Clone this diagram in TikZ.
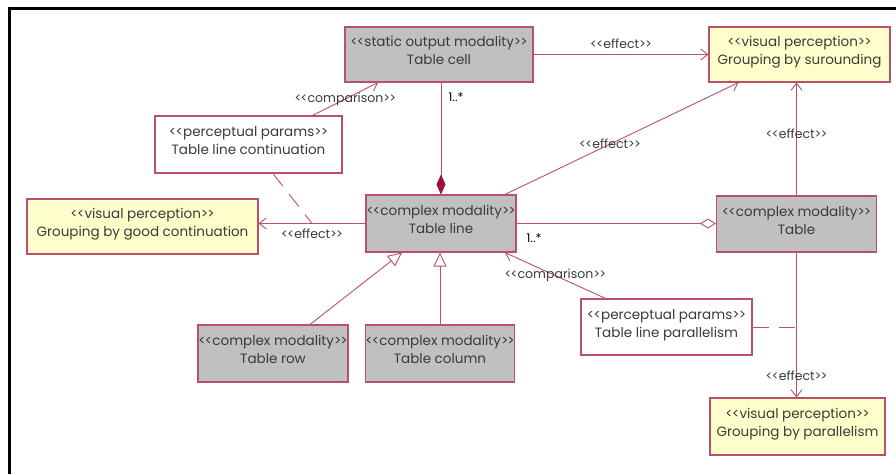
\documentclass[tikz,border=0pt]{standalone}
\usepackage{fontspec}
\setmainfont{Poppins}[Ligatures=NoCommon]
\usetikzlibrary{arrows.meta,calc}
\definecolor{umlred}{HTML}{B8506E}
\definecolor{umlgray}{HTML}{C0C0C0}
\definecolor{umlyellow}{HTML}{FFFFCC}
\definecolor{umltext}{HTML}{3A3A3A}
\definecolor{umldia}{HTML}{A0103C}
% stereotype in plain angle brackets
\newcommand{\stereo}[1]{<\kern-0.06em<#1>\kern-0.06em>}
% two-line class text, raised a little towards the top edge
\newcommand{\cls}[2]{\stereo{#1}\\#2\\[-10pt]\mbox{}}
\begin{document}
\begin{tikzpicture}[x=1pt,y=-1pt,
  box/.style={draw=umlred, line width=1.1pt, align=center, text=umltext,
    font=\fontsize{13.5}{18}\selectfont, inner sep=0pt},
  modal/.style={box, fill=umlgray},
  percept/.style={box, fill=umlyellow},
  param/.style={box, fill=white},
  conn/.style={draw=umlred, line width=0.9pt},
  effarrow/.style={-{Straight Barb[length=7pt,width=11pt,line width=0.9pt]}},
  genarrow/.style={-{Triangle[open,length=14pt,width=13pt,line width=0.9pt,fill=white]}},
  comparrow/.style={{Diamond[length=20pt,width=9pt,color=umldia]}-},
  aggarrow/.style={-{Diamond[open,length=16pt,width=10pt,line width=0.9pt,fill=white]}},
  tag/.style={font=\fontsize{12.5}{13}\selectfont, text=umltext, inner sep=1pt},
  mult/.style={font=\fontsize{12}{13}\selectfont, text=black, inner sep=1pt},
  dashlink/.style={conn, dash pattern=on 16pt off 10pt}
]
\useasboundingbox (0,0) rectangle (896,474);
% frame
\draw[line width=3pt] (9,474) -- (9,8.5) -- (896,8.5);

% classes
\node[modal, minimum width=188pt, minimum height=55pt] (cell) at (439,54.5)
  {\cls{static output modality}{Table cell}};
\node[percept, minimum width=181pt, minimum height=55pt] (surr) at (799.5,54.5)
  {\cls{visual perception}{Grouping by surounding}};
\node[param, minimum width=187pt, minimum height=57pt] (cont) at (248.5,144.5)
  {\cls{perceptual params}{Table line continuation}};
\node[percept, minimum width=231pt, minimum height=55pt] (goodc) at (142.5,226.5)
  {\cls{visual perception}{Grouping by good continuation}};
\node[modal, minimum width=150pt, minimum height=57pt] (line) at (441,223.5)
  {\cls{complex modality}{Table line}};
\node[modal, minimum width=160pt, minimum height=56pt] (table) at (796.5,224)
  {\cls{complex modality}{Table}};
\node[modal, minimum width=150pt, minimum height=57pt] (row) at (273,353.5)
  {\cls{complex modality}{Table row}};
\node[modal, minimum width=148pt, minimum height=57pt] (col) at (440,353.5)
  {\cls{complex modality}{Table column}};
\node[param, minimum width=171pt, minimum height=56pt] (par) at (666.5,327)
  {\cls{perceptual params}{Table line parallelism}};
\node[percept, minimum width=175pt, minimum height=57pt] (parg) at (797.5,426.5)
  {\cls{visual perception}{Grouping by parallelism}};

% cell -> surrounding
\draw[conn,effarrow] (cell.east) -- (surr.west)
  node[tag, midway, above=4pt] {\stereo{effect}};
% composition: table line contains cells
\draw[conn,comparrow] (line.north) -- (line.north |- cell.south);
\node[mult] (m1) at (456,97) {1..*};
% continuation params compared with cell
\draw[conn,effarrow] ([xshift=64pt]cont.north) -- ([xshift=-61pt]cell.south)
  node[tag, midway] {\stereo{comparison}};
% table line -> good continuation
\draw[conn,effarrow] (line.west) -- (line.west -| goodc.east)
  node[tag, midway, below=4pt] {\stereo{effect}};
\coordinate (contjoin) at ($(line.west)!0.5!(line.west -| goodc.east)$);
\draw[dashlink] ([xshift=24.5pt]cont.south) -- (contjoin);
% table line -> surrounding
\draw[conn,effarrow] ([xshift=64pt]line.north) -- ([xshift=-61pt]surr.south)
  node[tag, pos=0.45] {\stereo{effect}};
% aggregation: table contains lines
\draw[conn,aggarrow] (line.east) -- (line.east -| table.west);
\node[mult] (m2) at (534,238) {1..*};
% table -> surrounding, table -> parallelism
\draw[conn,effarrow] (table.north) -- (table.north |- surr.south)
  node[tag, pos=0.55] {\stereo{effect}};
\draw[conn,effarrow] (table.south) -- (table.south |- parg.north)
  node[tag, pos=0.85] {\stereo{effect}};
\coordinate (parjoin) at (par.east -| table.south);
\draw[dashlink] (par.east) -- (parjoin);
% parallelism params compared with table line
\draw[conn,effarrow] ([xshift=-61pt]par.north) -- ([xshift=64pt]line.south)
  node[tag, midway] {\stereo{comparison}};
% generalisations
\draw[conn,genarrow] ([xshift=37pt]row.north) -- ([xshift=-39pt]line.south);
\draw[conn,genarrow] (col.north) -- (col.north |- line.south);
\end{tikzpicture}
\end{document}
